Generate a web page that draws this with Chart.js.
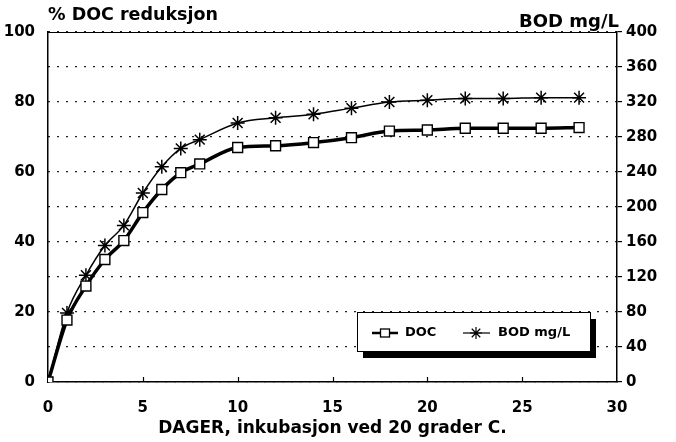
<!DOCTYPE html>
<html>
<head>
<meta charset="utf-8">
<script src="https://cdn.jsdelivr.net/npm/chart.js@4"></script>
<style>
  html, body { margin: 0; padding: 0; background: #fff; }
  #wrap { width: 676px; height: 442px; }
</style>
</head>
<body>
<div id="wrap"><canvas id="docChart" width="676" height="442"></canvas></div>
<script>
// incubation days
const days = [0, 1, 2, 3, 4, 5, 6, 7, 8, 10, 12, 14, 16, 18, 20, 22, 24, 26, 28];
// % DOC reduction (left axis)
const docValues = [0, 17.7, 27.4, 35, 40.4, 48.4, 55, 59.8, 62.3, 67, 67.5, 68.4, 69.8, 71.7, 72, 72.5, 72.5, 72.5, 72.7];
// BOD mg/L (right axis)
const bodValues = [0, 79, 122, 156, 179, 216, 246, 267, 277, 296, 302, 306, 313, 320, 322, 324, 324, 325, 325];

const leftTicks = [0, 20, 40, 60, 80, 100];
const rightTicks = [0, 40, 80, 120, 160, 200, 240, 280, 320, 360, 400];
const xTicks = [0, 5, 10, 15, 20, 25, 30];

const FONT = '"DejaVu Sans", sans-serif';

// titles, frame top, inner x ticks and shadowed legend box
const decorations = {
    id: 'decorations',
    afterDraw(chart) {
        const { ctx, chartArea: a, scales } = chart;
        ctx.save();
        ctx.fillStyle = '#000';
        ctx.strokeStyle = '#000';

        // top frame line
        ctx.lineWidth = 1;
        ctx.beginPath();
        ctx.moveTo(a.left, a.top + 0.5);
        ctx.lineTo(a.right, a.top + 0.5);
        ctx.stroke();

        // inner x tick marks
        ctx.lineWidth = 1.2;
        xTicks.slice(1, -1).forEach(v => {
            const px = Math.round(scales.x.getPixelForValue(v)) + 0.5;
            ctx.beginPath();
            ctx.moveTo(px, a.bottom);
            ctx.lineTo(px, a.bottom - 5);
            ctx.stroke();
        });

        // axis titles
        ctx.font = 'bold 17.5px ' + FONT;
        ctx.textBaseline = 'alphabetic';
        ctx.textAlign = 'left';
        ctx.fillText('% DOC reduksjon', a.left, 20);
        ctx.font = 'bold 18px ' + FONT;
        ctx.textAlign = 'right';
        ctx.fillText('BOD mg/L', a.right + 2, 27);
        ctx.font = 'bold 17px ' + FONT;
        ctx.textAlign = 'center';
        ctx.textBaseline = 'middle';
        ctx.fillText('DAGER, inkubasjon ved 20 grader C.', (a.left + a.right) / 2, 429);

        // legend box with drop shadow
        const bx = 357, by = 312, bw = 233, bh = 39;
        ctx.fillRect(bx + 6, by + 7, bw, bh);
        ctx.fillStyle = '#fff';
        ctx.fillRect(bx, by, bw, bh);
        ctx.lineWidth = 1;
        ctx.strokeRect(bx + 0.5, by + 0.5, bw, bh);

        const ly = by + 21;
        const sets = chart.data.datasets;
        // DOC sample
        ctx.lineWidth = 2.5;
        ctx.beginPath();
        ctx.moveTo(372, ly);
        ctx.lineTo(398, ly);
        ctx.stroke();
        ctx.fillStyle = '#fff';
        ctx.lineWidth = 1.3;
        ctx.fillRect(380.5, ly - 4, 9, 8);
        ctx.strokeRect(380.5, ly - 4, 9, 8);
        // BOD sample
        ctx.lineWidth = 1.2;
        ctx.beginPath();
        ctx.moveTo(463, ly);
        ctx.lineTo(490, ly);
        ctx.stroke();
        Chart.helpers.drawPoint(ctx, {
            pointStyle: 'star', radius: 6, borderWidth: 1.4
        }, 476, ly);

        ctx.fillStyle = '#000';
        ctx.font = 'bold 13px ' + FONT;
        ctx.textAlign = 'left';
        ctx.textBaseline = 'middle';
        ctx.fillText(sets[0].label, 405, ly);
        ctx.fillText(sets[1].label, 498, ly);
        ctx.restore();
    }
};

new Chart(document.getElementById('docChart'), {
    type: 'line',
    data: {
        datasets: [{
            label: 'DOC',
            data: days.map((d, i) => ({ x: d, y: docValues[i] })),
            yAxisID: 'y',
            borderColor: '#000',
            borderWidth: 3.5,
            cubicInterpolationMode: 'monotone',
            pointStyle: 'rect',
            pointRadius: 7,
            pointBackgroundColor: '#fff',
            pointBorderColor: '#000',
            pointBorderWidth: 1.4
        }, {
            label: 'BOD mg/L',
            data: days.map((d, i) => ({ x: d, y: bodValues[i] })),
            yAxisID: 'y1',
            borderColor: '#000',
            borderWidth: 1.5,
            cubicInterpolationMode: 'monotone',
            pointStyle: 'star',
            pointRadius: 7,
            pointBorderColor: '#000',
            pointBorderWidth: 1.5
        }]
    },
    options: {
        responsive: false,
        animation: false,
        layout: { padding: { top: 32, left: 0, right: 0, bottom: 0 } },
        plugins: {
            legend: { display: false },
            tooltip: { enabled: false }
        },
        scales: {
            x: {
                type: 'linear',
                min: 0,
                max: 30,
                afterFit: s => { s.height = 60; },
                afterBuildTicks: s => { s.ticks = xTicks.map(v => ({ value: v })); },
                grid: { display: false },
                border: { display: true, color: '#000', width: 1.5 },
                ticks: { color: '#000', padding: 9, font: { family: FONT, weight: 'bold', size: 15 } }
            },
            y: {
                position: 'left',
                min: 0,
                max: 100,
                afterFit: s => { s.width = 48; },
                afterBuildTicks: s => { s.ticks = leftTicks.map(v => ({ value: v })); },
                grid: { display: false },
                border: { display: true, color: '#000', width: 1.5 },
                ticks: { color: '#000', padding: 5, font: { family: FONT, weight: 'bold', size: 15 } }
            },
            y1: {
                position: 'right',
                min: 0,
                max: 400,
                afterFit: s => { s.width = 59; },
                afterBuildTicks: s => { s.ticks = rightTicks.map(v => ({ value: v })); },
                grid: {
                    display: true,
                    drawOnChartArea: true,
                    drawTicks: true,
                    tickLength: 5,
                    color: '#222',
                    lineWidth: 1.2,
                    tickColor: '#000',
                    tickWidth: 1.2
                },
                border: { display: true, color: '#000', width: 1.5, dash: [2, 7] },
                ticks: { color: '#000', padding: 4, font: { family: FONT, weight: 'bold', size: 15 } }
            }
        }
    },
    plugins: [decorations]
});
</script>
</body>
</html>
